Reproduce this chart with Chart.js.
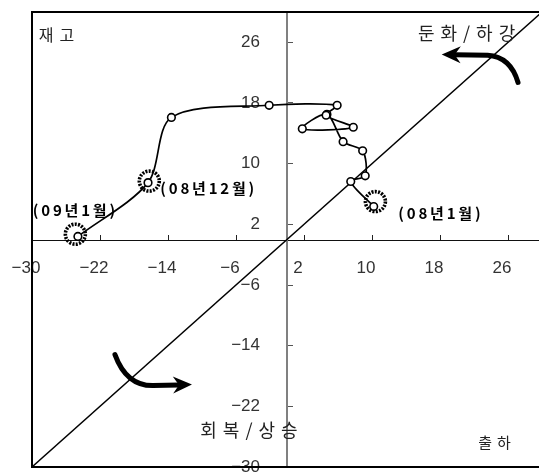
<!DOCTYPE html>
<html><head><meta charset="utf-8">
<script src="https://cdn.jsdelivr.net/npm/chart.js@4.4.1/dist/chart.umd.min.js"></script>
<style>html,body{margin:0;padding:0;overflow:hidden;background:#fff}#wrap{position:relative;width:548px;height:480px}</style>
</head><body><div id="wrap"><canvas id="c"></canvas></div>
<script>
const xTicks = [-30, -22, -14, -6, 2, 10, 18, 26];
const yTicks = [-30, -22, -14, -6, 2, 10, 18, 26];
const pathX = [10.2, 7.5, 9.2, 8.9, 6.6, 4.7, 1.8, 7.8, 4.6, 5.9, -2.1, -13.6, -16.35, -24.6];
const pathY = [4.35, 7.65, 8.4, 11.7, 12.9, 16.5, 14.6, 14.8, 16.4, 17.7, 17.7, 16.1, 7.5, 0.4];
const diagX = [-30, 30];
const diagY = [-30, 30];
const ringX = [10.4, -16.2, -24.9];
const ringY = [5.0, 7.7, 0.7];
const ringLabels = ['(08년1월)', '(08년12월)', '(09년1월)'];
const ringLabelX = [13.1, -14.9, -29.9];
const ringLabelY = [3.4, 6.7, 3.8];
const quadLabels = ['재고', '둔화/하강', '회복/상승', '출하'];
const quadX = [-29.2, 15.4, -10.2, 22.5];
const quadY = [27.0, 27.2, -25.1, -26.8];
const arrowTopX = [27.18, 26.3, 23.6, 18.2];
const arrowTopY = [20.71, 24.1, 24.3, 24.4];
const arrowBotX = [-20.24, -18.9, -15.76, -11.18];
const arrowBotY = [-15.17, -19.3, -19.26, -19.13];

const fmt = v => (v < 0 ? '\u2212' + Math.abs(v) : String(v));
const zeroPad = s => { s.paddingLeft = 0; s.paddingRight = 0; s.paddingTop = 0; s.paddingBottom = 0; };
const tickFont = { family: '"Liberation Sans", Arial, sans-serif', size: 17 };
const KR = '"Noto Sans CJK KR", "Noto Sans", sans-serif';

function drawSpaced(ctx, text, x, y, spacing) {
  let cx = x;
  for (const ch of text) {
    ctx.fillText(ch, cx, y);
    cx += ctx.measureText(ch).width + spacing;
  }
}

function drawArrow(ctx, xs, ys, sx, sy) {
  const p = xs.map((v, i) => [sx.getPixelForValue(v), sy.getPixelForValue(ys[i])]);
  const headLen = 19, halfW = 8.5, notch = 6;
  const dx = p[3][0] - p[2][0], dy = p[3][1] - p[2][1];
  const L = Math.hypot(dx, dy), ux = dx / L, uy = dy / L, nx = -uy, ny = ux;
  const tx = p[3][0], ty = p[3][1];
  ctx.save();
  ctx.strokeStyle = '#000'; ctx.fillStyle = '#000';
  ctx.lineWidth = 5; ctx.lineCap = 'round'; ctx.lineJoin = 'round';
  ctx.beginPath();
  ctx.moveTo(p[0][0], p[0][1]);
  ctx.quadraticCurveTo(p[1][0], p[1][1], p[2][0], p[2][1]);
  ctx.lineTo(tx - ux * (headLen - notch), ty - uy * (headLen - notch));
  ctx.stroke();
  const bx = tx - ux * headLen, by = ty - uy * headLen;
  ctx.beginPath();
  ctx.moveTo(tx, ty);
  ctx.lineTo(bx + nx * halfW, by + ny * halfW);
  ctx.lineTo(tx - ux * (headLen - notch), ty - uy * (headLen - notch));
  ctx.lineTo(bx - nx * halfW, by - ny * halfW);
  ctx.closePath();
  ctx.fill();
  ctx.restore();
}

const decor = {
  id: 'decor',
  afterDatasetsDraw(chart) {
    const ctx = chart.ctx, a = chart.chartArea, sx = chart.scales.x, sy = chart.scales.y;
    ctx.save();
    ctx.strokeStyle = '#000'; ctx.lineWidth = 2;
    ctx.strokeRect(a.left, a.top, a.right - a.left, a.bottom - a.top);
    ctx.lineWidth = 3.6; ctx.setLineDash([2, 1.3]);
    ringX.forEach((v, i) => {
      ctx.beginPath();
      ctx.arc(sx.getPixelForValue(v), sy.getPixelForValue(ringY[i]), 10, 0, Math.PI * 2);
      ctx.stroke();
    });
    ctx.setLineDash([]);
    ctx.fillStyle = '#000'; ctx.textBaseline = 'middle'; ctx.textAlign = 'left';
    ctx.font = 'bold 15px ' + KR;
    ringLabels.forEach((t, i) => drawSpaced(ctx, t, sx.getPixelForValue(ringLabelX[i]), sy.getPixelForValue(ringLabelY[i]), 2.8));
    ctx.fillStyle = '#222';
    const qSizes = [16, 18, 18, 15];
    const qSpace = [6, 6, 6, 5];
    quadLabels.forEach((t, i) => {
      ctx.font = qSizes[i] + 'px ' + KR;
      drawSpaced(ctx, t, sx.getPixelForValue(quadX[i]), sy.getPixelForValue(quadY[i]), qSpace[i]);
    });
    ctx.restore();
    drawArrow(ctx, arrowTopX, arrowTopY, sx, sy);
    drawArrow(ctx, arrowBotX, arrowBotY, sx, sy);
  }
};

new Chart(document.getElementById('c'), {
  type: 'scatter',
  data: {
    datasets: [
      {
        data: pathX.map((x, i) => ({ x, y: pathY[i] })),
        showLine: true, borderColor: '#000', borderWidth: 1.7, tension: 0.3,
        pointRadius: 3.8, pointHoverRadius: 3.8, pointBorderWidth: 1.6,
        pointBackgroundColor: '#fff', pointBorderColor: '#000'
      },
      {
        data: diagX.map((x, i) => ({ x, y: diagY[i] })),
        showLine: true, borderColor: '#000', borderWidth: 1.4, pointRadius: 0, tension: 0
      }
    ]
  },
  options: {
    responsive: true, maintainAspectRatio: false, animation: false, events: [],
    layout: { padding: { left: 32, top: 12, right: 6, bottom: 13 } },
    plugins: { legend: { display: false }, tooltip: { enabled: false } },
    scales: {
      x: {
        type: 'linear', position: 'center', min: -30, max: 30,
        afterBuildTicks: s => { s.ticks = xTicks.map(v => ({ value: v })); },
        afterFit: zeroPad,
        grid: { drawOnChartArea: false, drawTicks: true, tickLength: -6, color: '#222', lineWidth: 1 },
        border: { display: true, color: '#111', width: 1 },
        ticks: { autoSkip: false, maxRotation: 0, padding: 25, labelOffset: -6, color: '#333', font: tickFont, callback: fmt }
      },
      y: {
        type: 'linear', position: 'center', min: -30, max: 30,
        afterBuildTicks: s => { s.ticks = yTicks.map(v => ({ value: v })); },
        afterFit: zeroPad,
        grid: { drawOnChartArea: false, drawTicks: true, tickLength: -7, color: '#555', lineWidth: 1 },
        border: { display: true, color: '#808080', width: 2 },
        ticks: { autoSkip: false, padding: 34, color: '#333', font: tickFont, callback: fmt }
      }
    }
  },
  plugins: [decor]
});
</script></body></html>
